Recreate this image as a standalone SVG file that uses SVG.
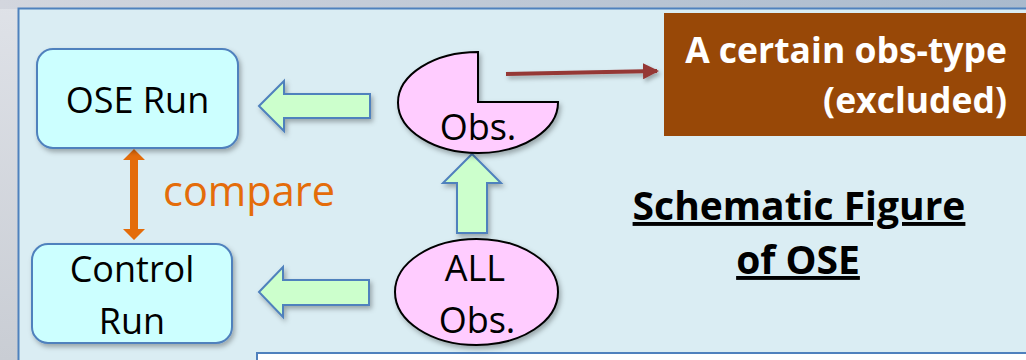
<svg xmlns="http://www.w3.org/2000/svg" width="1026" height="360" viewBox="0 0 1026 360">
  <defs>
    <linearGradient id="topg" x1="0" y1="0" x2="1" y2="0">
      <stop offset="0" stop-color="#d3d6de"/>
      <stop offset="1" stop-color="#a9bacd"/>
    </linearGradient>
    <linearGradient id="leftg" x1="0" y1="0" x2="0" y2="1">
      <stop offset="0" stop-color="#dfe2e8"/>
      <stop offset="1" stop-color="#c9cdd4"/>
    </linearGradient>
    <filter id="sh" x="-10%" y="-10%" width="130%" height="130%">
      <feDropShadow dx="2" dy="3" stdDeviation="2.5" flood-color="#000" flood-opacity="0.3"/>
    </filter>
    <filter id="shu" filterUnits="userSpaceOnUse" x="490" y="50" width="190" height="45">
      <feDropShadow dx="2" dy="3" stdDeviation="2" flood-color="#000" flood-opacity="0.3"/>
    </filter>
    <marker id="redhead" viewBox="0 0 16 16" refX="14" refY="8" markerWidth="16" markerHeight="16" markerUnits="userSpaceOnUse" orient="auto">
      <path d="M0,0 L16,8 L0,16 Z" fill="#953735"/>
    </marker>
    <style>
      .run { fill: #ccffff; stroke: #4f81bd; stroke-width: 2; }
      .obs { fill: #ffccff; stroke: #000; stroke-width: 2; }
      .garrow { fill: #ccffcc; stroke: #4f81bd; stroke-width: 2; stroke-linejoin: miter; }
      .t { font-family: "Open Sans", "Liberation Sans", sans-serif; font-size: 36px; fill: #000; text-anchor: middle; }
      .tb { font-family: "Open Sans", "Liberation Sans", sans-serif; font-weight: bold; }
    </style>
  </defs>

  <!-- backdrop -->
  <rect x="0" y="0" width="1026" height="360" fill="url(#leftg)"/>
  <rect x="0" y="0" width="1026" height="9" fill="url(#topg)"/>
  <rect x="18.5" y="8.5" width="1020" height="370" fill="#daedf3" stroke="#4f81bd" stroke-width="2"/>
  <rect x="257" y="353" width="780" height="20" fill="#ffffff" stroke="#4f81bd" stroke-width="2"/>

  <!-- connectors -->
  <g id="connectors">
    <path class="garrow" filter="url(#sh)" d="M259,106 L284,81 L284,94 L370,94 L370,118 L284,118 L284,131 Z"/>
    <path class="garrow" filter="url(#sh)" d="M259,292 L283,267 L283,280 L369,280 L369,305 L283,305 L283,317 Z"/>
    <path class="garrow" filter="url(#sh)" d="M472,154 L501,183 L487,183 L487,233 L457,233 L457,183 L443,183 Z"/>
    <path fill="#e46c0a" d="M134,149 L145,160 L138,160 L138,229 L145,229 L134,240 L123,229 L130,229 L130,160 L123,160 Z"/>
    <line x1="506" y1="74" x2="657" y2="71" stroke="#953735" stroke-width="4" marker-end="url(#redhead)" filter="url(#shu)"/>
  </g>

  <g id="ose-run">
    <rect class="run" x="37" y="49" width="201" height="99" rx="16" filter="url(#sh)"/>
    <text class="t" x="137.5" y="113">OSE Run</text>
  </g>

  <g id="control-run">
    <rect class="run" x="32" y="244" width="200" height="99" rx="16" filter="url(#sh)"/>
    <text class="t" x="132" y="282">Control</text>
    <text class="t" x="132" y="334">Run</text>
  </g>

  <g id="compare-label">
    <text x="163" y="206" font-family="'Open Sans', 'Liberation Sans', sans-serif" font-size="41.5" fill="#e46c0a">compare</text>
  </g>

  <g id="obs">
    <path class="obs" filter="url(#sh)" d="M478,102 L478,52 A80,50.5 0 1 0 558,102 Z"/>
    <text class="t" x="478" y="140">Obs.</text>
  </g>

  <g id="all-obs">
    <ellipse class="obs" cx="476.5" cy="292" rx="81.5" ry="53" filter="url(#sh)"/>
    <text class="t" x="475" y="281">ALL</text>
    <text class="t" x="477" y="333">Obs.</text>
  </g>

  <g id="excluded">
    <rect x="664" y="13" width="380" height="123" fill="#984807"/>
    <text class="tb" x="1007" y="63" font-size="35.5" fill="#ffffff" text-anchor="end">A certain obs-type</text>
    <text class="tb" x="1007" y="113" font-size="35.5" fill="#ffffff" text-anchor="end">(excluded)</text>
  </g>

  <g id="title">
    <text class="tb" x="799" y="220" font-size="39" fill="#000" text-anchor="middle" text-decoration="underline">Schematic Figure</text>
    <text class="tb" x="798" y="274" font-size="39" fill="#000" text-anchor="middle" text-decoration="underline">of OSE</text>
  </g>
</svg>
